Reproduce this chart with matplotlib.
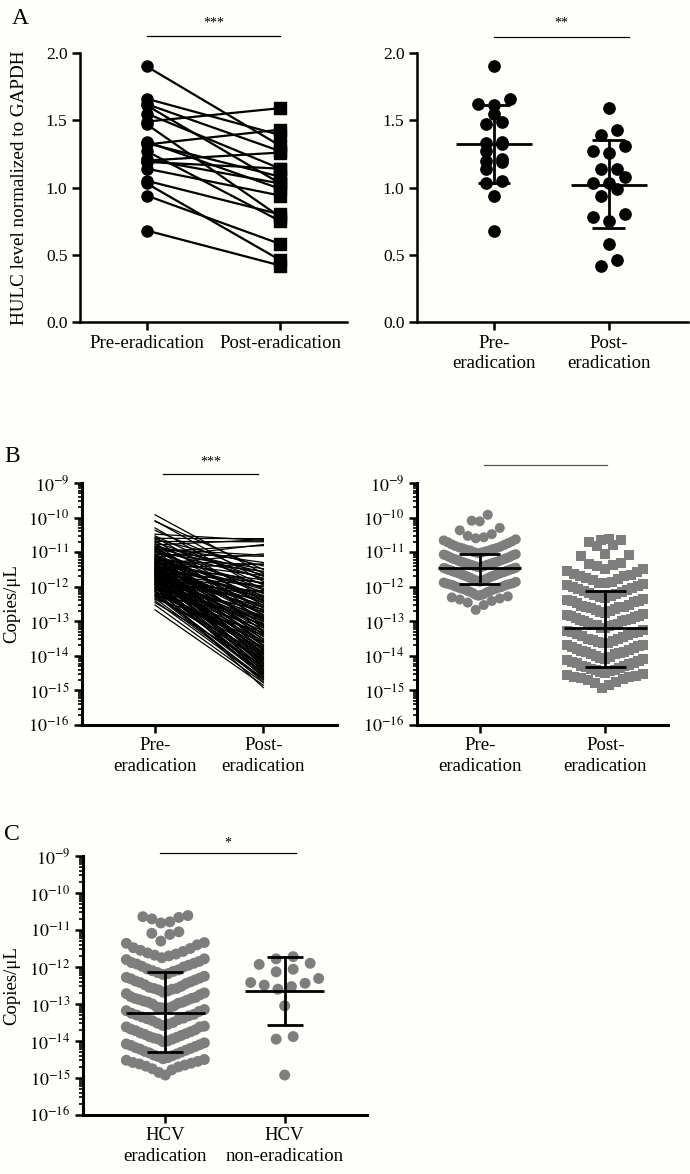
import numpy as np
import matplotlib
matplotlib.use('Agg')
import matplotlib.pyplot as plt
from matplotlib.ticker import FixedLocator, FixedFormatter, LogLocator, NullFormatter
from matplotlib.transforms import blended_transform_factory

plt.rcParams['font.family'] = ['Liberation Serif', 'DejaVu Serif']
plt.rcParams['mathtext.fontset'] = 'stix'

BG = '#fefefa'
GRAY = '#7e7e7e'

# ---------------- Panel A data (HULC level normalized to GAPDH) ----------------
a_categories = ['Pre-eradication', 'Post-eradication']
a_categories_2line = ['Pre-\neradication', 'Post-\neradication']
a_pre = [1.90, 1.66, 1.62, 1.61, 1.55, 1.49, 1.47, 1.34, 1.33, 1.32,
         1.27, 1.21, 1.20, 1.19, 1.14, 1.05, 1.03, 0.94, 0.68]
a_post = [1.31, 1.39, 1.27, 1.03, 1.14, 1.59, 0.78, 0.99, 1.08, 1.43,
          0.75, 1.03, 1.26, 1.14, 0.94, 0.80, 0.46, 0.58, 0.42]
a_mean = [1.32, 1.02]
a_sd_low = [1.03, 0.70]
a_sd_high = [1.61, 1.35]
a_yticks = [0.0, 0.5, 1.0, 1.5, 2.0]
a_sig = ['***', '**']

# ---------------- Panel B data (log10 copies/uL), paired by index ----------------
b_categories = ['Pre-\neradication', 'Post-\neradication']
b_pre_log10 = [
    -9.92, -10.09, -10.11, -10.30, -10.37, -10.48, -10.53, -10.57, -10.60, -10.63,
    -10.66, -10.69, -10.71, -10.74, -10.77, -10.79, -10.82, -10.84, -10.86, -10.89,
    -10.91, -10.93, -10.95, -10.98, -11.00, -11.01, -11.03, -11.06, -11.07, -11.09,
    -11.11, -11.12, -11.14, -11.15, -11.17, -11.19, -11.20, -11.22, -11.23, -11.25,
    -11.26, -11.28, -11.29, -11.31, -11.32, -11.34, -11.35, -11.36, -11.38, -11.39,
    -11.41, -11.42, -11.43, -11.45, -11.46, -11.47, -11.49, -11.50, -11.51, -11.53,
    -11.54, -11.55, -11.57, -11.58, -11.59, -11.61, -11.62, -11.63, -11.65, -11.66,
    -11.67, -11.69, -11.70, -11.71, -11.73, -11.74, -11.76, -11.77, -11.79, -11.80,
    -11.82, -11.83, -11.85, -11.86, -11.88, -11.90, -11.91, -11.93, -11.95, -11.97,
    -11.99, -12.01, -12.03, -12.05, -12.07, -12.09, -12.11, -12.13, -12.16, -12.18,
    -12.21, -12.23, -12.26, -12.28, -12.31, -12.34, -12.37, -12.41, -12.46, -12.53,
    -12.67, -11.44, -11.18, -11.60, -11.92, -10.95, -11.33, -11.72, -12.02, -11.52,
    -11.27, -11.64, -11.40, -11.85, -11.08, -11.56, -11.78, -12.14, -11.47, -10.88,
    -11.37, -11.68, -11.94, -11.21, -11.50, -12.06, -11.81, -11.30, -11.58, -12.24,
]
b_post_log10 = [
    -11.62, -11.85, -11.50, -12.10, -11.70, -10.66, -11.95, -12.30, -10.61, -11.40,
    -12.55, -10.70, -11.78, -13.05, -12.20, -10.64, -11.58, -12.85, -11.30, -12.40,
    -11.09, -12.70, -13.30, -10.81, -12.05, -11.48, -13.55, -12.62, -11.12, -12.95,
    -13.20, -11.92, -12.48, -10.78, -13.70, -12.15, -11.55, -13.40, -12.80, -11.36,
    -12.35, -13.85, -11.68, -12.90, -13.10, -11.05, -12.58, -14.00, -12.25, -13.45,
    -11.80, -13.62, -12.75, -14.15, -12.00, -11.34, -13.25, -12.45, -13.95, -12.68,
    -13.15, -14.30, -11.88, -12.92, -13.78, -12.18, -14.45, -13.35, -12.52, -11.98,
    -13.50, -14.05, -12.60, -13.90, -12.28, -14.25, -13.00, -12.85, -14.55, -13.68,
    -12.38, -13.80, -14.35, -13.10, -12.72, -14.62, -13.58, -12.12, -14.10, -13.28,
    -14.48, -13.42, -12.98, -14.20, -13.75, -12.65, -14.40, -13.88, -13.18, -14.58,
    -13.62, -14.50, -12.88, -14.12, -13.95, -14.65, -13.32, -14.70, -14.28, -14.78,
    -14.85, -13.72, -12.42, -14.08, -14.42, -11.75, -13.08, -14.18, -14.92, -13.52,
    -12.82, -14.38, -13.60, -14.52, -12.32, -13.92, -14.22, -14.75, -12.58, -11.65,
    -13.38, -12.95, -14.60, -12.08, -14.32, -13.82, -13.12, -11.90, -14.02, -14.68,
]
b_mean_log10 = [-11.46, -13.20]
b_low_log10 = [-11.92, -14.31]
b_high_log10 = [-11.06, -12.11]

# ---------------- Panel C data ----------------
c_categories = ['HCV\neradication', 'HCV\nnon-eradication']
c_nonerad_log10 = [-11.72, -11.78, -11.90, -11.93, -12.06, -12.13,
                   -12.31, -12.42, -12.44, -12.49, -12.53, -12.60,
                   -13.05, -13.88, -13.95, -14.92]
c_mean_log10 = [-13.23, -12.64]
c_low_log10 = [-14.31, -13.57]
c_high_log10 = [-12.13, -11.72]

log_decades = [-16, -15, -14, -13, -12, -11, -10, -9]

# ---------------- helpers ----------------
W, H = 690, 1174
fig = plt.figure(figsize=(W / 100, H / 100), dpi=100, facecolor=BG)
CAT_FS = 13.5


def add_ax(l, t, r, b):
    ax = fig.add_axes([l / W, 1 - b / H, (r - l) / W, (b - t) / H])
    ax.set_facecolor(BG)
    for s in ['top', 'right']:
        ax.spines[s].set_visible(False)
    for s in ['left', 'bottom']:
        ax.spines[s].set_linewidth(1.8)
    ax.tick_params(direction='out', length=6, width=1.8, labelsize=12.5, pad=3, colors='black')
    ax.tick_params(axis='x', labelsize=CAT_FS)
    return ax


def swarm_x(ax, xc, vals, bin_px, half_px, cap_px):
    vals = np.asarray(vals, float)
    pts = ax.transData.transform(np.column_stack([np.full(len(vals), xc), vals]))
    py = pts[:, 1]
    order = np.argsort(py)
    offs = np.zeros(len(vals))
    groups = []
    cur = []
    start = None
    for i in order:
        if start is None or py[i] - start >= bin_px:
            if cur:
                groups.append(cur)
            cur = [i]
            start = py[i]
        else:
            cur.append(i)
    if cur:
        groups.append(cur)
    for g in groups:
        n = len(g)
        if n == 1:
            continue
        step = min(cap_px, 2 * half_px / (n - 1))
        if n % 2 == 1:
            slots = [0] + [s for k in range(1, n // 2 + 1) for s in (-k, k)]
        else:
            slots = [s for k in range(n // 2) for s in (-(k + 0.5), k + 0.5)]
        for j, i in enumerate(g):
            offs[i] = slots[j] * step
    xpix = pts[:, 0] + offs
    return ax.transData.inverted().transform(np.column_stack([xpix, py]))[:, 0]


def errbars(ax, xs, means, lows, highs, mean_hw, cap_hw, lw=2.0):
    for x, m, lo, hi in zip(xs, means, lows, highs):
        ax.plot([x - mean_hw, x + mean_hw], [m, m], color='black', lw=lw, zorder=5, solid_capstyle='butt')
        ax.plot([x, x], [lo, hi], color='black', lw=lw, zorder=5)
        ax.plot([x - cap_hw, x + cap_hw], [lo, lo], color='black', lw=lw, zorder=5, solid_capstyle='butt')
        ax.plot([x - cap_hw, x + cap_hw], [hi, hi], color='black', lw=lw, zorder=5, solid_capstyle='butt')


def sigbar(ax, x0, x1, y, text=None, tx=None, ty=None, color='black'):
    tr = blended_transform_factory(ax.transData, ax.transAxes)
    ax.plot([x0, x1], [y, y], color=color, lw=0.9, transform=tr, clip_on=False)
    if text:
        ax.text(tx, ty, text, transform=tr, ha='center', va='center', fontsize=10)


def log_axis(ax):
    ax.set_yscale('log')
    ax.set_ylim(10.0 ** log_decades[0], 10.0 ** log_decades[-1])
    ax.yaxis.set_major_locator(FixedLocator([10.0 ** d for d in log_decades]))
    ax.yaxis.set_major_formatter(FixedFormatter([r'$10^{%d}$' % d for d in log_decades]))
    ax.yaxis.set_minor_locator(LogLocator(base=10, subs=np.arange(2, 10), numticks=20))
    ax.yaxis.set_minor_formatter(NullFormatter())
    ax.tick_params(axis='y', which='minor', length=3, width=1.2, direction='out')
    ax.tick_params(axis='y', which='major', labelsize=13)
    for s in ['left', 'bottom']:
        ax.spines[s].set_linewidth(2.2)


xpos = [0, 1]

# ---------------- Panel A left: paired ----------------
ax = add_ax(80, 53, 347, 322)
ax.set_xlim(-0.5, 1.5)
ax.set_ylim(0, 2.0)
ax.set_yticks(a_yticks)
ax.set_yticklabels(['%.1f' % v for v in a_yticks])
ax.set_xticks(xpos)
ax.set_xticklabels(a_categories)
for p, q in zip(a_pre, a_post):
    ax.plot(xpos, [p, q], color='black', lw=1.6, zorder=2, clip_on=False)
ax.scatter([0] * len(a_pre), a_pre, s=64, marker='o', color='black', zorder=3, clip_on=False)
ax.scatter([1] * len(a_post), a_post, s=64, marker='s', color='black', zorder=3, clip_on=False)
ax.set_ylabel('HULC level normalized to GAPDH', fontsize=13.8)
ax.yaxis.set_label_coords(-0.195, 0.5)
sigbar(ax, 0, 1, 1.063, a_sig[0], 0.5, 1.111)
fig.text(20 / W, 1 - 19 / H, 'A', fontsize=17, ha='center', va='center')

# ---------------- Panel A right: scatter ----------------
ax = add_ax(417, 53, 688, 322)
ax.set_xlim(-0.67, 1.69)
ax.set_ylim(0, 2.0)
ax.set_yticks(a_yticks)
ax.set_yticklabels(['%.1f' % v for v in a_yticks])
ax.set_xticks(xpos)
ax.set_xticklabels(a_categories_2line, linespacing=1.25)
for xc, vals in zip(xpos, [a_pre, a_post]):
    xs = swarm_x(ax, xc, vals, bin_px=7, half_px=30, cap_px=16)
    ax.scatter(xs, vals, s=66, marker='o', color='black', zorder=3, clip_on=False)
errbars(ax, xpos, a_mean, a_sd_low, a_sd_high, 0.33, 0.143)
sigbar(ax, 0, 1.176, 1.0595, a_sig[1], 0.584, 1.111)

# ---------------- Panel B left: paired lines ----------------
ax = add_ax(82, 483, 337, 725)
ax.set_xlim(-0.675, 1.68)
log_axis(ax)
ax.set_xticks(xpos)
ax.set_xticklabels(b_categories, linespacing=1.25)
for p, q in zip(b_pre_log10, b_post_log10):
    ax.plot(xpos, [10.0 ** p, 10.0 ** q], color='black', lw=0.9, zorder=2)
ax.set_ylabel('Copies/μL', fontsize=13.5)
ax.yaxis.set_label_coords(-0.243, 0.5)
sigbar(ax, 0.073, 0.95, 1.037, '***', 0.516, 1.087)
fig.text(12 / W, 1 - 457 / H, 'B', fontsize=17, ha='center', va='center')

# ---------------- Panel B right: scatter ----------------
ax = add_ax(417, 483, 668, 725)
ax.set_xlim(-0.5, 1.5)
log_axis(ax)
ax.set_xticks(xpos)
ax.set_xticklabels(b_categories, linespacing=1.25)
pre_v = 10.0 ** np.array(b_pre_log10)
post_v = 10.0 ** np.array(b_post_log10)
xs = swarm_x(ax, 0, pre_v, bin_px=14, half_px=36, cap_px=8)
ax.scatter(xs, pre_v, s=52, marker='o', color=GRAY, edgecolors='none', zorder=3)
xs = swarm_x(ax, 1, post_v, bin_px=14, half_px=38, cap_px=8)
ax.scatter(xs, post_v, s=52, marker='s', color=GRAY, edgecolors='none', zorder=3)
errbars(ax, xpos, 10.0 ** np.array(b_mean_log10), 10.0 ** np.array(b_low_log10),
        10.0 ** np.array(b_high_log10), 0.33, 0.165)
sigbar(ax, 0.034, 1.014, 1.074, None, color='#505050')

# ---------------- Panel C ----------------
ax = add_ax(83, 856, 367, 1115)
ax.set_xlim(-0.69, 1.69)
log_axis(ax)
ax.set_xticks(xpos)
ax.set_xticklabels(c_categories, linespacing=1.25)
xs = swarm_x(ax, 0, post_v, bin_px=16, half_px=39, cap_px=9)
ax.scatter(xs, post_v, s=62, marker='o', color=GRAY, edgecolors='none', zorder=3)
non_v = 10.0 ** np.array(c_nonerad_log10)
xs = swarm_x(ax, 1, non_v, bin_px=11, half_px=34, cap_px=17)
ax.scatter(xs, non_v, s=62, marker='o', color=GRAY, edgecolors='none', zorder=3)
errbars(ax, xpos, 10.0 ** np.array(c_mean_log10), 10.0 ** np.array(c_low_log10),
        10.0 ** np.array(c_high_log10), 0.33, 0.15)
ax.set_ylabel('Copies/μL', fontsize=13.5)
ax.yaxis.set_label_coords(-0.222, 0.5)
sigbar(ax, -0.045, 1.095, 1.0116, '*', 0.525, 1.05)
fig.text(12 / W, 1 - 834 / H, 'C', fontsize=17, ha='center', va='center')

fig.savefig('out.png', dpi=100, facecolor=BG)
